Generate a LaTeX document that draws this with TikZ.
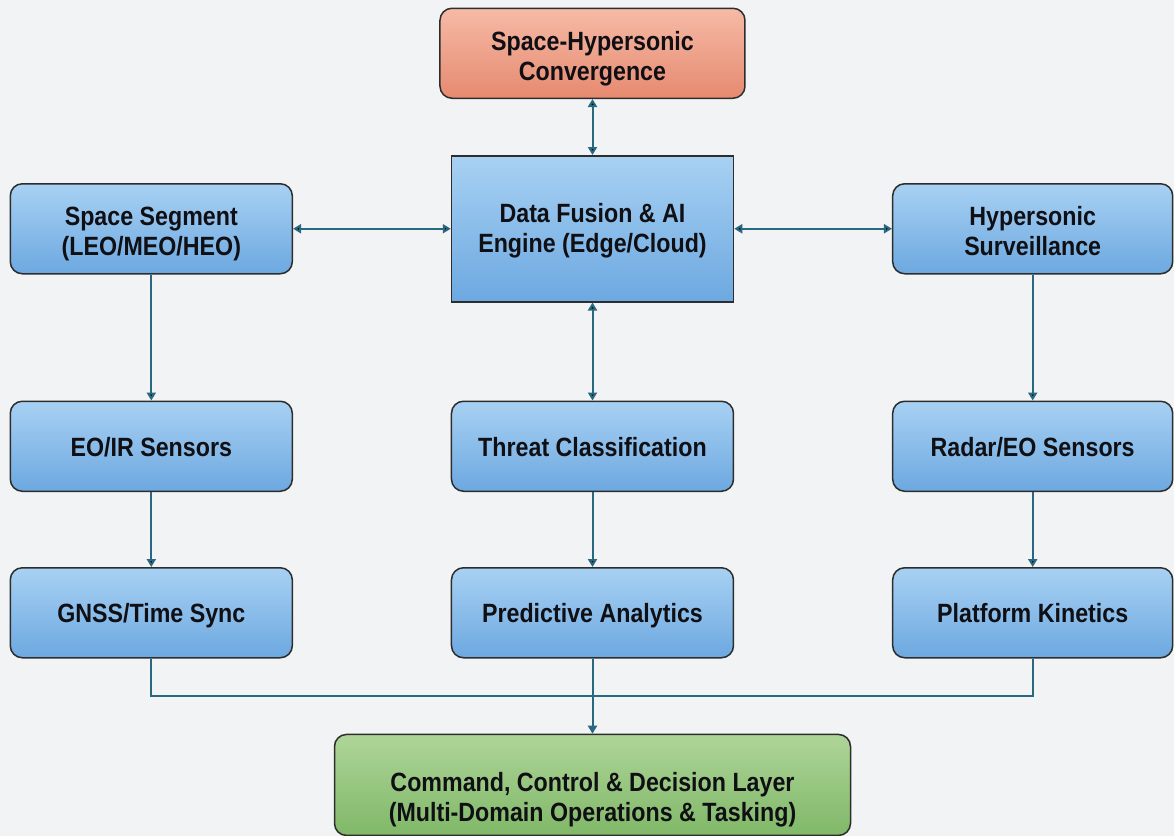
\documentclass[tikz,border=0pt]{standalone}
\usepackage{fontspec}
\setmainfont{Liberation Sans}[FakeStretch=0.88]
\usetikzlibrary{matrix,arrows.meta,positioning}

\definecolor{pagebg}{RGB}{242,243,245}
\definecolor{bluetop}{RGB}{168,209,243}
\definecolor{bluebot}{RGB}{108,168,224}
\definecolor{redtop}{RGB}{246,186,166}
\definecolor{redbot}{RGB}{230,138,112}
\definecolor{greentop}{RGB}{174,213,152}
\definecolor{greenbot}{RGB}{128,184,104}
\definecolor{boxline}{RGB}{45,45,45}
\definecolor{linkcol}{RGB}{40,104,128}
\definecolor{textcol}{RGB}{15,15,20}
\newcommand\boxfont{\fontsize{13.2}{15}\selectfont\bfseries}
% struts so that every box sets its lines at the same heights
\newcommand\oneline[1]{\rule[-4pt]{0pt}{18pt}#1}
\newcommand\twolines[3][16pt]{\rule{0pt}{#1}#2\\#3\rule[-4pt]{0pt}{4pt}}

\begin{document}
\begin{tikzpicture}[x=0.5pt,y=-0.5pt,
  box/.style={draw=boxline,line width=0.75pt,rounded corners=6pt,
    top color=bluetop,bottom color=bluebot,
    minimum width=141pt,minimum height=45pt,inner sep=2pt,
    align=center,font=\boxfont,text=textcol},
  rightbox/.style={box,minimum width=140pt},
  link/.style={draw=linkcol,line width=1pt},
  >={Triangle[length=4pt,width=4.5pt]}]
\fill[pagebg] (0,0) rectangle (1174,836);
\useasboundingbox (0,0) rectangle (1174,836);
\matrix (m) [column sep=73.1pt,row sep=0pt] at (591.5,333)
{ & \node[box,minimum width=152.5pt,top color=redtop,bottom color=redbot] (conv)
      {\twolines{Space-Hypersonic}{Convergence}}; & \\[28pt]
  \node[box] (space) {\twolines{Space Segment}{(LEO/MEO/HEO)}}; &
  \node[box,rounded corners=0pt,minimum height=73pt] (fusion)
      {\twolines[13pt]{Data Fusion \& AI}{Engine (Edge/Cloud)}}; &
  \node[rightbox] (hyper) {\twolines{Hypersonic}{Surveillance}}; \\[49pt]
  \node[box] (eoir) {\oneline{EO/IR Sensors}}; &
  \node[box] (threat) {\oneline{Threat Classification}}; &
  \node[rightbox] (radar) {\oneline{Radar/EO Sensors}}; \\[37.5pt]
  \node[box] (gnss) {\oneline{GNSS/Time Sync}}; &
  \node[box] (predict) {\oneline{Predictive Analytics}}; &
  \node[rightbox] (kinetic) {\oneline{Platform Kinetics}}; \\
};
\node[box,below=37.6pt of predict,minimum width=258pt,minimum height=50.5pt,
  top color=greentop,bottom color=greenbot] (c2)
  {\twolines[26pt]{Command, Control \& Decision Layer}{(Multi-Domain Operations \& Tasking)}};
% links into and out of the fusion engine
\path[link,<->] (conv) edge (fusion)
  (space) edge (fusion)
  (fusion) edge (hyper)
  (fusion) edge (threat);
% sensor chains
\path[link,->] (space) edge (eoir)
  (eoir) edge (gnss)
  (threat) edge (predict)
  (hyper) edge (radar)
  (radar) edge (kinetic);
% bus to the decision layer
\draw[link] (gnss.south) -- ++(0pt,-18.5pt) -| (kinetic.south);
\draw[link,->] (predict) -- (c2);
\end{tikzpicture}
\end{document}
